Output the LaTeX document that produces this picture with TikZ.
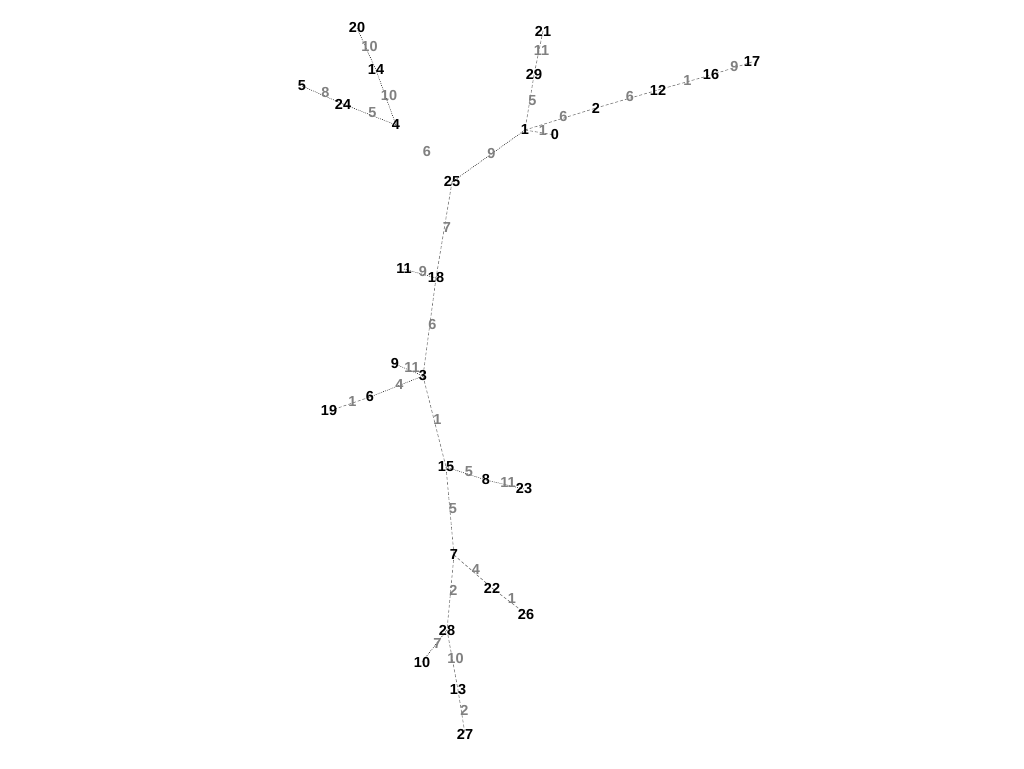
\documentclass[tikz,border=0pt]{standalone}
\usepackage{fontspec}
\setmainfont{Liberation Sans}
\usetikzlibrary{backgrounds}

\tikzset{
	vtx/.style={inner sep=0pt, font=\bfseries\fontsize{14.5}{14.5}\selectfont, text=black},
	wlabel/.style={inner sep=0pt, xshift=3pt, yshift=2pt, font=\bfseries\fontsize{14.5}{14.5}\selectfont, text=black!50},
	dotline/.style={black, line width=0.5pt, dash pattern=on 0.8pt off 1.2pt},
	dashline/.style={black!55, line width=0.6pt, dash pattern=on 3pt off 2pt},
	noline/.style={draw=none}
}

\begin{document}
\begin{tikzpicture}[x=1pt, y=-1pt]
	\useasboundingbox (0,0) rectangle (1024,768);

	% vertices
	\foreach \n/\x/\y in {20/357/28, 14/376/70, 5/302/86, 24/343/104, 4/396/125,
		21/543/31, 29/534/75, 1/525/130, 0/555/135, 2/596/108, 12/658/90,
		16/711/75, 17/752/62, 25/452/182, 11/404/269, 18/436/278, 9/395/364,
		3/423/376, 6/370/397, 19/329/411, 15/446/467, 8/486/480, 23/524/489,
		7/454/555, 22/492/588, 26/526/614, 28/447/630, 10/422/662, 13/458/690,
		27/465/734}{
		\node[vtx] (n\n) at (\x,\y) {\n};
	}

	\begin{scope}[on background layer]
		% dotted edges
		\foreach \a/\b/\w in {20/14/10, 14/4/10, 5/24/8, 24/4/5, 25/1/9, 11/18/9,
			9/3/11, 3/6/4, 15/8/5, 8/23/11, 28/10/7}{
			\draw[dotline] (n\a.center) -- node[wlabel] {\w} (n\b.center);
		}
		% dashed edges
		\foreach \a/\b/\w in {21/29/11, 29/1/5, 1/0/1, 1/2/6, 2/12/6, 12/16/1,
			16/17/9, 25/18/7, 18/3/6, 6/19/1, 3/15/1, 15/7/5, 7/22/4, 22/26/1,
			7/28/2, 28/13/10, 13/27/2}{
			\draw[dashline] (n\a.center) -- node[wlabel] {\w} (n\b.center);
		}
		% edge without a line
		\draw[noline] (n4.center) -- node[wlabel] {6} (n25.center);
	\end{scope}
\end{tikzpicture}
\end{document}
